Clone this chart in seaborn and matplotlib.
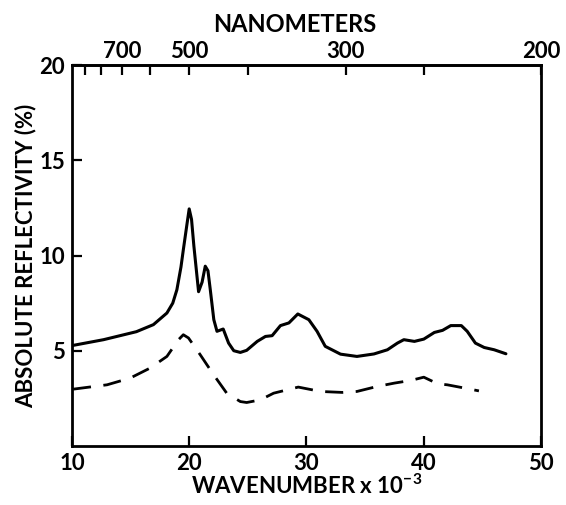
import matplotlib
matplotlib.use("Agg")
import matplotlib.pyplot as plt
import seaborn as sns
import pandas as pd
import numpy as np

# Solid curve (upper)
solid_x = [10.1, 12.7, 15.5, 16.95, 18.1, 18.6, 18.95, 19.3, 19.5, 19.8, 20.0, 20.2, 20.4,
           20.8, 21.1, 21.37, 21.6, 21.8, 22.1, 22.37, 22.9, 23.36, 23.8, 24.36, 24.9,
           25.8, 26.5, 27.07, 27.78, 28.5, 29.26, 30.2, 30.9, 31.6, 32.9, 34.3, 35.75,
           36.9, 37.75, 38.3, 39.2, 40.0, 40.9, 41.6, 42.3, 43.2, 43.7, 44.4, 45.15,
           46.0, 47.0]
solid_y = [5.28, 5.58, 6.0, 6.37, 6.98, 7.5, 8.2, 9.4, 10.3, 11.6, 12.45, 11.9, 10.5,
           8.1, 8.6, 9.44, 9.2, 8.2, 6.63, 6.02, 6.14, 5.4, 5.0, 4.91, 5.02,
           5.49, 5.75, 5.79, 6.32, 6.46, 6.93, 6.63, 6.02, 5.23, 4.82, 4.7, 4.83,
           5.05, 5.4, 5.58, 5.49, 5.61, 5.96, 6.07, 6.32, 6.32, 6.02, 5.4, 5.17,
           5.05, 4.84]

# Dashed curve (lower)
dash_x = [10.1, 13.0, 14.96, 16.67, 18.1, 19.09, 19.5, 19.94, 20.94, 22.08, 23.2,
          24.36, 24.9, 26.07, 27.2, 29.3, 31.2, 33.05, 34.3, 36.0, 37.5, 38.9, 40.0,
          41.2, 42.0, 43.2, 44.7]
dash_y = [2.98, 3.21, 3.56, 4.09, 4.7, 5.58, 5.84, 5.67, 4.79, 3.74, 2.77,
          2.33, 2.28, 2.42, 2.77, 3.09, 2.86, 2.81, 2.86, 3.12, 3.3, 3.44, 3.61,
          3.26, 3.21, 3.07, 2.89]

bottom_ticks = [10, 20, 30, 40, 50]
left_ticks = [5, 10, 15, 20]
nm_ticks = [900, 800, 700, 600, 500, 400, 300, 250, 200]
nm_labels = ["", "", "700", "", "500", "", "300", "", "200"]

sns.set_style("ticks")
plt.rcParams['font.family'] = ['Lato', 'DejaVu Sans']
plt.rcParams['font.weight'] = 'bold'
plt.rcParams['axes.labelweight'] = 'bold'
plt.rcParams['text.color'] = 'black'
plt.rcParams['axes.labelcolor'] = 'black'
plt.rcParams['mathtext.fontset'] = 'custom'
plt.rcParams['mathtext.rm'] = 'Lato:bold'
plt.rcParams['mathtext.default'] = 'rm'

fig = plt.figure(figsize=(5.66, 5.05), dpi=100)
ax = fig.add_axes([0.127, 0.117, 0.829, 0.754])

df_s = pd.DataFrame({"x": solid_x, "y": solid_y})
df_d = pd.DataFrame({"x": dash_x, "y": dash_y})
sns.lineplot(data=df_s, x="x", y="y", ax=ax, color="black", linewidth=2.2,
             sort=False, estimator=None)
sns.lineplot(data=df_d, x="x", y="y", ax=ax, color="black", linewidth=2.0,
             sort=False, estimator=None)
ax.lines[-1].set_dashes([6.5, 4.5])
for ln in ax.lines:
    ln.set_solid_joinstyle('round')
    ln.set_dash_joinstyle('round')

ax.set_xlim(10, 50)
ax.set_ylim(0, 20)
ax.set_xticks(bottom_ticks)
ax.set_yticks(left_ticks)
ax.set_xticklabels([str(t) for t in bottom_ticks])
ax.set_yticklabels([str(t) for t in left_ticks])
for s in ax.spines.values():
    s.set_linewidth(2.0)
    s.set_color("black")
ax.tick_params(direction="in", length=7, width=1.6, labelsize=16, colors="black", pad=5)

ax.set_xlabel(r"WAVENUMBER x 10$^{-3}$", fontsize=16, fontweight="bold", labelpad=0)
ax.set_ylabel("ABSOLUTE REFLECTIVITY (%)", fontsize=16, fontweight="bold", labelpad=2)

sec = ax.secondary_xaxis('top', functions=(lambda x: 1e4 / np.asarray(x, float),
                                           lambda x: 1e4 / np.asarray(x, float)))
sec.set_xticks(nm_ticks)
sec.set_xticklabels(nm_labels)
sec.tick_params(direction="in", length=7, width=1.6, labelsize=16, colors="black", pad=2)
sec.spines['top'].set_linewidth(2.0)
sec.set_xlabel("NANOMETERS", fontsize=17, fontweight="bold", labelpad=7, x=0.475)

fig.savefig("out.png", dpi=100)
